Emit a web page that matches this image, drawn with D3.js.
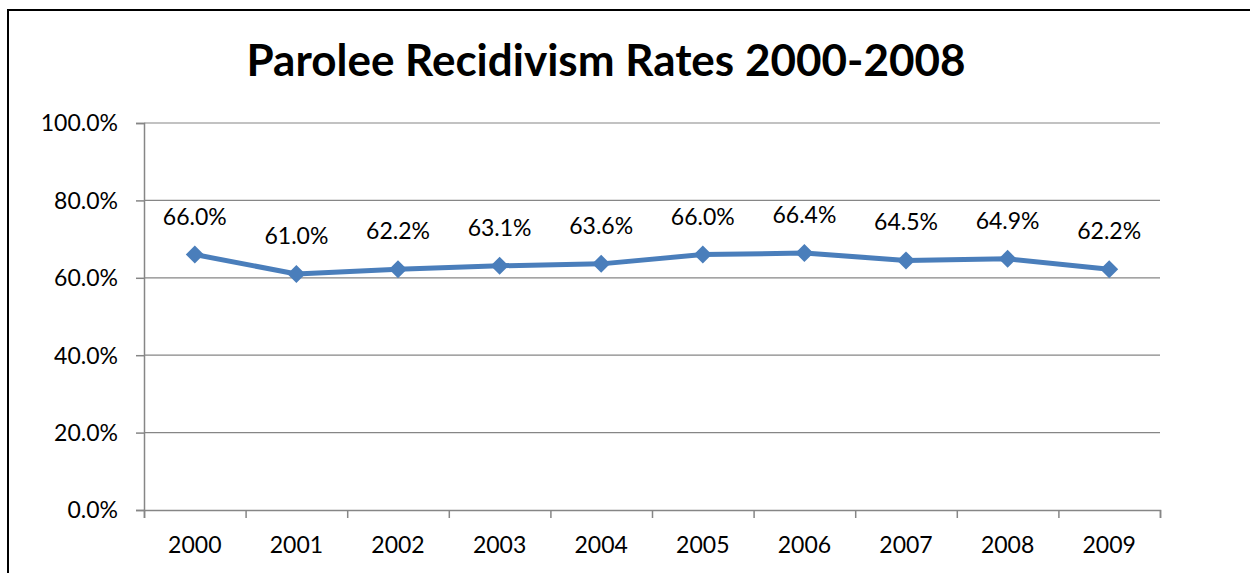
<!DOCTYPE html>
<html>
<head>
<meta charset="utf-8">
<script src="https://d3js.org/d3.v7.min.js"></script>
<style>
  body { margin: 0; background: #fff; }
  text { font-family: Lato, "Open Sans", sans-serif; fill: #000; }
</style>
</head>
<body>
<div id="chart"></div>
<script>
// chart values
var years = ["2000", "2001", "2002", "2003", "2004", "2005", "2006", "2007", "2008", "2009"];
var rates = [66.0, 61.0, 62.2, 63.1, 63.6, 66.0, 66.4, 64.5, 64.9, 62.2];
var yTicks = [0, 20, 40, 60, 80, 100];
var title = "Parolee Recidivism Rates 2000-2008";

var W = 1250, H = 573;
var margin = {top: 123, right: 90, bottom: 63, left: 144},
    width = W - margin.left - margin.right,
    height = H - margin.top - margin.bottom;

var root = d3.select("#chart").append("svg")
    .attr("width", W)
    .attr("height", H);

// outer frame (runs off the right and bottom edges)
root.append("rect")
    .attr("x", 8).attr("y", 10)
    .attr("width", W + 20).attr("height", H + 20)
    .attr("fill", "none")
    .attr("stroke", "#000")
    .attr("stroke-width", 2);

root.append("text")
    .attr("x", 606).attr("y", 76)
    .attr("text-anchor", "middle")
    .style("font-size", "44px")
    .style("font-weight", "bold")
    .text(title);

var svg = root.append("g")
    .attr("transform", "translate(" + margin.left + "," + margin.top + ")");

var y = d3.scaleLinear().domain([0, 100]).range([height, 0]);
var x = d3.scaleBand().domain(years).range([0, width]);
var xEdge = d3.scaleLinear().domain([0, years.length]).range([0, width]);

// gridlines
svg.append("g")
    .selectAll("line")
    .data(yTicks.filter(function(d) { return d > 0; }))
    .enter().append("line")
      .attr("x1", 0).attr("x2", width)
      .attr("y1", function(d) { return y(d); })
      .attr("y2", function(d) { return y(d); })
      .attr("stroke", "#868686")
      .attr("stroke-width", 1.2);

// y axis
var yAxis = svg.append("g")
    .call(d3.axisLeft(y).tickValues(yTicks).tickSize(8).tickPadding(18)
      .tickFormat(function(d) { return d.toFixed(1) + "%"; }));
yAxis.selectAll("text").style("font-size", "23px").attr("dy", "0.34em");

// x axis: tick marks between categories
svg.append("g")
    .attr("transform", "translate(0," + height + ")")
    .call(d3.axisBottom(xEdge).tickValues(d3.range(years.length + 1)).tickSize(8).tickFormat(""));

// x axis labels
var xAxis = svg.append("g")
    .attr("transform", "translate(0," + height + ")")
    .call(d3.axisBottom(x).tickSize(0).tickPadding(27));
xAxis.selectAll("text").style("font-size", "23px");
xAxis.select(".domain").remove();

svg.selectAll(".domain, .tick line")
    .attr("stroke", "#868686")
    .attr("stroke-width", 1.5);

var data = years.map(function(yr, i) { return {year: yr, v: rates[i]}; });
var cx = function(d) { return x(d.year) + x.bandwidth() / 2; };

// series line
svg.append("path")
    .datum(data)
    .attr("fill", "none")
    .attr("stroke", "#4A7EBB")
    .attr("stroke-width", 5)
    .attr("stroke-linejoin", "round")
    .attr("d", d3.line().x(cx).y(function(d) { return y(d.v); }));

// diamond markers
svg.selectAll(".marker")
    .data(data)
    .enter().append("path")
      .attr("class", "marker")
      .attr("d", d3.symbol().type(d3.symbolSquare).size(162))
      .attr("transform", function(d) { return "translate(" + cx(d) + "," + y(d.v) + ") rotate(45)"; })
      .attr("fill", "#4A7EBB");

// data labels
svg.selectAll(".lbl")
    .data(data)
    .enter().append("text")
      .attr("class", "lbl")
      .attr("x", cx)
      .attr("y", function(d) { return y(d.v) - 30; })
      .attr("text-anchor", "middle")
      .style("font-size", "23px")
      .text(function(d) { return d.v.toFixed(1) + "%"; });
</script>
</body>
</html>
